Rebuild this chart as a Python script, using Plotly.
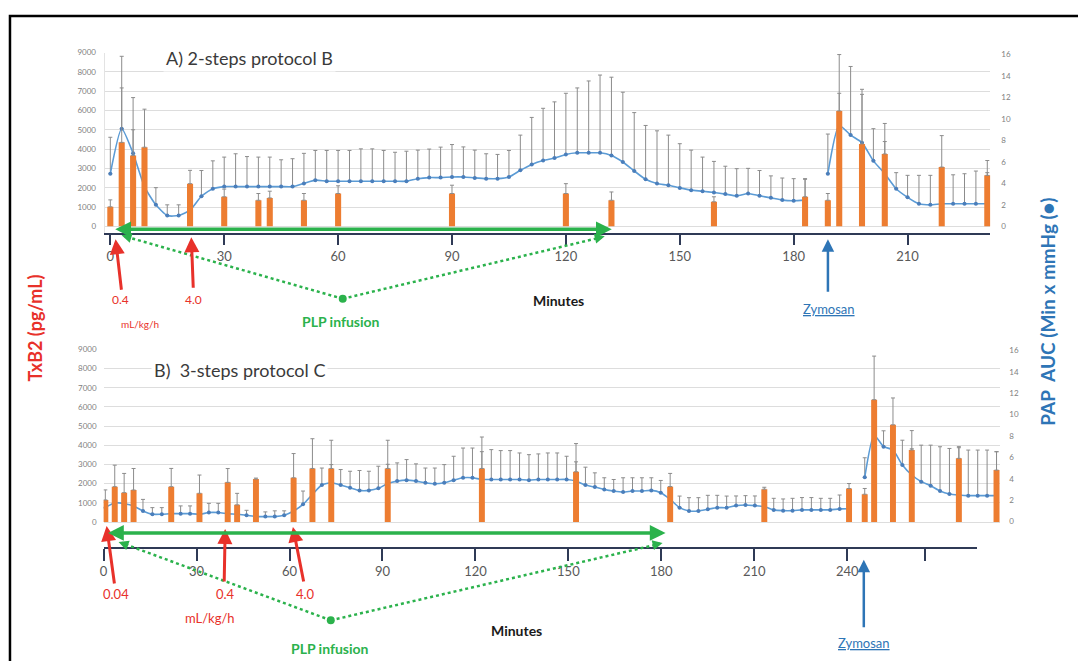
import plotly.graph_objects as go

W, H = 1078, 661
def px(x): return x / W
def py(y): return 1 - y / H

# ---------------- Panel A data (2-steps protocol B) ----------------
A_T_LINE = [0, 3, 6, 9, 12, 15, 18, 21, 24, 27, 30, 33, 36, 39, 42, 45, 48, 51, 54, 57,
            60, 63, 66, 69, 72, 75, 78, 81, 84, 87, 90, 93, 96, 99, 102, 105, 108, 111, 114, 117,
            120, 123, 126, 129, 132, 135, 138, 141, 144, 147, 150, 153, 156, 159, 162, 165, 168, 171, 174, 177,
            180, 183, 186, 189, 192, 195, 198, 201, 204, 207, 210, 213, 216, 219, 222, 225, 228, 231]
A_PAP = [4.9, 9.1, 6.8, 3.7, 2.0, 1.0, 1.0, 1.5, 2.8, 3.5,
         3.7, 3.7, 3.7, 3.7, 3.7, 3.7, 3.7, 4.0, 4.3, 4.2,
         4.2, 4.2, 4.2, 4.2, 4.2, 4.2, 4.2, 4.44, 4.54, 4.54,
         4.6, 4.6, 4.51, 4.44, 4.44, 4.6, 5.22, 5.77, 6.14, 6.36,
         6.7, 6.85, 6.85, 6.85, 6.6, 5.99, 5.16, 4.38, 3.98, 3.83,
         3.58, 3.37, 3.27, 3.15, 3.0, 2.84, 3.06, 2.84, 2.65, 2.44,
         2.38, 2.44, None,
         4.9, 9.4, 8.5, 7.8, 6.1, 4.9, 3.5, 2.7, 2.1, 2.0, 2.1, 2.1, 2.1, 2.1, 2.1]
A_PAP_SD = [3.4, 3.8, 2.2, 2.3, 1.6, 1.0, 1.0, 1.1, 2.4, 2.6,
            2.75, 3.06, 2.8, 2.75, 2.75, 2.5, 2.6, 2.8, 2.77, 2.87,
            2.87, 2.87, 3.02, 3.02, 2.87, 2.7, 2.8, 2.66, 2.66, 2.84,
            3.02, 2.8, 2.59, 2.32, 2.26, 2.47, 3.28, 4.38, 4.86, 5.24,
            5.7, 6.05, 6.7, 7.25, 7.3, 6.51, 5.44, 5.02, 4.92, 4.67,
            4.12, 3.73, 3.18, 2.9, 2.6, 2.53, 2.34, 2.36, 2.05, 2.06,
            2.06, 1.94, 0,
            3.7, 3.0, 6.4, 4.5, 3.0, 3.0, 1.5, 2.05, 2.65, 2.75, 2.6, 2.7, 2.8, 3.05, 2.9]
A_T_BAR = [0, 3, 6, 9, 21, 30, 39, 42, 51, 60, 90, 120, 132, 159, 183, 189, 192, 198, 204, 219, 231]
A_TXB2 = [1010, 4350, 3670, 4100, 2210, 1530, 1350, 1470, 1350, 1700, 1700, 1700, 1350, 1270, 1530,
          1350, 5980, 4270, 3750, 3070, 2640]
A_TXB2_SD = [360, 4460, 3000, 1970, 690, 400, 350, 350, 350, 400, 430, 510, 430, 260, 940,
             350, 2920, 2830, 1580, 1630, 770]
A_XTICKS = [0, 30, 60, 90, 120, 150, 180, 210]

# ---------------- Panel B data (3-steps protocol C) ----------------
B_T_LINE = [0, 3, 6, 9, 12, 15, 18, 21, 24, 27, 30, 33, 36, 39, 42, 45, 48, 51, 54, 57,
            60, 63, 66, 69, 72, 75, 78, 81, 84, 87, 90, 93, 96, 99, 102, 105, 108, 111, 114, 117,
            120, 123, 126, 129, 132, 135, 138, 141, 144, 147, 150, 153, 156, 159, 162, 165, 168, 171, 174, 177,
            180, 183, 186, 189, 192, 195, 198, 201, 204, 207, 210, 213, 216, 219, 222, 225, 228, 231, 234, 237,
            240, 242, 245, 248, 251, 254, 257, 260, 263, 266, 269, 272, 275, 278, 281, 284]
B_PAP = [1.3, 1.76, 1.67, 1.46, 0.99, 0.68, 0.68, 0.74, 0.74, 0.74,
         0.68, 0.84, 0.84, 0.74, 0.68, 0.59, 0.46, 0.46, 0.46, 0.59,
         0.99, 1.61, 2.54, 3.41, 3.62, 3.41, 3.16, 2.91, 2.91, 3.1,
         3.55, 3.78, 3.87, 3.78, 3.62, 3.53, 3.62, 3.87, 4.09, 4.09,
         3.93, 3.93, 3.93, 3.93, 3.93, 3.87, 3.93, 3.93, 3.93, 3.93,
         3.78, 3.41, 3.22, 3.0, 2.85, 2.76, 2.85, 2.85, 2.91, 2.69,
         2.07, 1.3, 0.99, 0.99, 1.15, 1.3, 1.3, 1.49, 1.55, 1.49,
         1.4, 1.09, 1.02, 1.02, 1.09, 1.09, 1.09, 1.09, 1.18, 1.2,
         None,
         4.13, 8.07, 7.0, 6.7, 5.28, 4.35, 3.73, 3.35, 2.86, 2.58, 2.48, 2.42, 2.42, 2.42, 2.42]
B_PAP_SD = [0.5, 1.0, 0.8, 0.8, 1.08, 0.62, 0.62, 0.6, 0.72, 0.72,
            0.7, 0.86, 0.86, 0.7, 0.6, 0.46, 0.5, 0.44, 0.54, 0.41,
            0.8, 1.24, 1.5, 1.59, 1.7, 1.45, 1.54, 1.86, 1.79, 2.07,
            1.8, 1.7, 1.92, 1.61, 1.38, 1.47, 1.7, 2.23, 2.78, 2.78,
            2.6, 2.79, 2.7, 2.7, 2.48, 2.38, 2.39, 2.48, 2.48, 2.17,
            1.8, 1.67, 1.33, 1.09, 1.08, 1.33, 1.24, 1.24, 1.18, 1.15,
            1.2, 1.08, 1.24, 1.24, 1.3, 1.15, 1.08, 0.9, 0.87, 0.9,
            0.9, 1.08, 1.09, 1.15, 1.15, 1.15, 1.08, 1.08, 1.3, 1.0,
            0,
            1.83, 1.5, 1.48, 1.0, 2.32, 2.45, 3.41, 3.79, 4.13, 4.25, 4.42, 4.26, 4.26, 4.26, 4.1]
B_T_BAR = [0, 3, 6, 9, 21, 30, 39, 42, 48, 60, 66, 72, 90, 120, 150, 180, 210, 237,
           242, 245, 251, 257, 272, 284]
B_TXB2 = [1155, 1845, 1534, 1672, 1845, 1500, 2069, 896, 2241, 2310, 2793, 2793, 2793, 2793, 2620,
          1845, 1713, 1748, 1450, 6379, 5068, 3757, 3320, 2709]
B_TXB2_SD = [520, 1120, 1000, 1120, 950, 950, 720, 600, 50, 1260, 1550, 1470, 1470, 1640, 1470,
             690, 100, 260, 300, 2270, 1400, 1010, 610, 960]
B_XTICKS = [0, 30, 60, 90, 120, 150, 180, 210, 240, 265]
B_XTICKTEXT = ["0", "30", "60", "90", "120", "150", "180", "210", "240", ""]

LEFT_TICKS = [0, 1000, 2000, 3000, 4000, 5000, 6000, 7000, 8000, 9000]
RIGHT_TICKS = [0, 2, 4, 6, 8, 10, 12, 14, 16]

ORANGE = "#ED7D31"
BLUE_LINE = "#5B9BD5"
BLUE_MK = "#4A7EBB"
ERR = "#8C8C8C"
RED = "#E8312A"
GREEN = "#2BB24C"
ZBLUE = "#2E75B6"
NAVY = "#2F3A56"
FONT = "Lato, Carlito, Calibri, sans-serif"

fig = go.Figure()

def err(sd):
    return dict(type="data", symmetric=False, array=sd, arrayminus=[0] * len(sd),
                color=ERR, thickness=1, width=2)

# Panel A
fig.add_trace(go.Scatter(x=A_T_LINE, y=A_PAP, xaxis="x", yaxis="y", mode="lines+markers",
                         line=dict(color=BLUE_LINE, width=1.6, shape="spline", smoothing=0.6),
                         marker=dict(size=4, color=BLUE_MK), error_y=err(A_PAP_SD),
                         connectgaps=False, hoverinfo="skip"))
fig.add_trace(go.Bar(x=A_T_BAR, y=A_TXB2, xaxis="x", yaxis="y2", width=1.6,
                     marker=dict(color=ORANGE, line=dict(width=0)), error_y=err(A_TXB2_SD),
                     hoverinfo="skip"))
# Panel B
fig.add_trace(go.Scatter(x=B_T_LINE, y=B_PAP, xaxis="x3", yaxis="y3", mode="lines+markers",
                         line=dict(color=BLUE_LINE, width=1.6, shape="spline", smoothing=0.6),
                         marker=dict(size=4, color=BLUE_MK), error_y=err(B_PAP_SD),
                         connectgaps=False, hoverinfo="skip"))
fig.add_trace(go.Bar(x=B_T_BAR, y=B_TXB2, xaxis="x3", yaxis="y4", width=1.9,
                     marker=dict(color=ORANGE, line=dict(width=0)), error_y=err(B_TXB2_SD),
                     hoverinfo="skip"))
# dummy trace for the drawn minutes axis of panel B
fig.add_trace(go.Scatter(x=[0], y=[None], xaxis="x4", yaxis="y3", mode="markers",
                         hoverinfo="skip", showlegend=False))

small = dict(size=8, color="#7F7F7F", family=FONT)
xt = dict(size=13, color="#595959", family=FONT)

fig.update_layout(
    width=W, height=H, margin=dict(l=0, r=0, t=0, b=0),
    paper_bgcolor="white", plot_bgcolor="rgba(0,0,0,0)", showlegend=False,
    font=dict(family=FONT), barmode="overlay",
    xaxis=dict(domain=[px(101), px(990)], range=[-1.5, 231.8], anchor="y",
               tickvals=A_XTICKS, showline=True, linecolor=NAVY, linewidth=2,
               ticks="outside", ticklen=10, tickwidth=2, tickcolor=NAVY,
               showgrid=False, zeroline=False, tickfont=xt),
    yaxis=dict(domain=[py(230), py(48)], range=[-0.65, 16.19], side="right", anchor="x",
               tickvals=RIGHT_TICKS, showgrid=False, zeroline=False, tickfont=small,
               ticklabelstandoff=10),
    yaxis2=dict(overlaying="y", side="left", anchor="x", range=[-360, 9000],
                tickvals=LEFT_TICKS, showgrid=True, gridcolor="#DDDDDD", gridwidth=1,
                zeroline=False, tickfont=small, showline=True, linecolor="#E3E3E3",
                ticklabelstandoff=6),
    xaxis3=dict(domain=[px(100), px(1000)], range=[-0.54, 285.2], anchor="y3", visible=False),
    yaxis3=dict(domain=[py(547), py(347)], range=[-2.46, 16.09], side="right", anchor="x3",
                tickvals=RIGHT_TICKS, showgrid=False, zeroline=False, tickfont=small,
                ticklabelstandoff=8),
    yaxis4=dict(overlaying="y3", side="left", anchor="x3", range=[-1345, 9000],
                tickvals=LEFT_TICKS, showgrid=True, gridcolor="#DDDDDD", gridwidth=1,
                zeroline=False, tickfont=small, ticklabelstandoff=6),
    xaxis4=dict(domain=[px(100), px(977)], range=[0, 282], anchor="free", position=py(547),
                tickvals=B_XTICKS, ticktext=B_XTICKTEXT, showline=True, linecolor=NAVY,
                linewidth=2, ticks="outside", ticklen=12, tickwidth=2, tickcolor=NAVY,
                showgrid=False, zeroline=False, tickfont=xt),
)

ann = []
def text(x, y, s, size, color, bold=False, angle=0, bg=None, family=FONT):
    d = dict(x=px(x), y=py(y), xref="paper", yref="paper", showarrow=False,
             text=("<b>%s</b>" % s) if bold else s, textangle=angle,
             font=dict(size=size, color=color, family=family),
             xanchor="center", yanchor="middle")
    if bg:
        d.update(bgcolor=bg, borderpad=2)
    ann.append(d)

def arrow(x0, y0, x1, y1, color, width, head=2, size=1.0, both=False):
    d = dict(x=px(x1), y=py(y1), xref="paper", yref="paper", text="", showarrow=True,
             ax=x0 - x1, ay=y0 - y1, axref="pixel", ayref="pixel",
             arrowhead=head, arrowsize=size, arrowwidth=width, arrowcolor=color,
             standoff=0, startstandoff=0)
    if both:
        d.update(arrowside="end+start", startarrowhead=head, startarrowsize=size)
    ann.append(d)

# titles
text(246, 53, "A) 2-steps protocol B", 18, "#3A3A3A", bg="white")
text(236, 368, "B)  3-steps protocol C", 18, "#3A3A3A", bg="white")
text(31, 325, "TxB2 (pg/mL)", 18, RED, bold=True, angle=-90)
text(1048, 309, "PAP  AUC (Min x mmHg (●)", 19, ZBLUE, bold=True, angle=-90)

# panel A annotations
text(117, 297, "0.4", 12, RED)
text(190, 297, "4.0", 12, RED)
text(137, 321, "mL/kg/h", 10, RED)
text(557, 298, "Minutes", 14, "#1A1A1A", bold=True)
text(338, 319, "PLP infusion", 14, GREEN, bold=True)
text(828, 306, "<u>Zymosan</u>", 13, ZBLUE)
arrow(118, 288, 112, 236, RED, 3)
arrow(190, 286, 188, 234, RED, 3)
arrow(827, 290, 827, 236, ZBLUE, 2.5)
arrow(112, 226, 610, 226, GREEN, 3.5, head=2, size=0.9, both=True)

# panel B annotations
text(112, 593, "0.04", 13, RED)
text(222, 593, "0.4", 13, RED)
text(303, 593, "4.0", 13, RED)
text(207, 618, "mL/kg/h", 13, RED)
text(514, 630, "Minutes", 14, "#1A1A1A", bold=True)
text(327, 648, "PLP infusion", 14, GREEN, bold=True)
text(863, 643, "<u>Zymosan</u>", 13, ZBLUE)
arrow(111, 584, 103, 525, RED, 3)
arrow(221, 582, 222, 528, RED, 3)
arrow(301, 582, 290, 526, RED, 3)
arrow(863, 628, 863, 559, ZBLUE, 2.5)
arrow(105, 532, 664, 532, GREEN, 3.5, head=2, size=0.9, both=True)

# dotted arrowheads
arrow(127.6, 234.8, 118, 232, GREEN, 2, head=2, size=1)
arrow(593.3, 235.3, 603, 233, GREEN, 2, head=2, size=1)
arrow(124.4, 544.5, 115, 541, GREEN, 2, head=2, size=1)
arrow(651.3, 544.3, 661, 542, GREEN, 2, head=2, size=1)

shapes = []
def seg(x0, y0, x1, y1, color, width, dash="solid"):
    shapes.append(dict(type="line", xref="paper", yref="paper",
                       x0=px(x0), y0=py(y0), x1=px(x1), y1=py(y1),
                       line=dict(color=color, width=width, dash=dash)))
def dot(x, y, r, color):
    shapes.append(dict(type="circle", xref="paper", yref="paper",
                       x0=px(x - r), x1=px(x + r), y0=py(y + r), y1=py(y - r),
                       fillcolor=color, line=dict(width=0)))

seg(340, 296, 121, 233, GREEN, 2.5, "dot")
seg(340, 296, 600, 234, GREEN, 2.5, "dot")
dot(340, 296, 4, GREEN)
seg(328, 620, 118, 542, GREEN, 2.5, "dot")
seg(328, 620, 658, 543, GREEN, 2.5, "dot")
dot(328, 620, 4, GREEN)

# outer frame
shapes.append(dict(type="rect", xref="paper", yref="paper", x0=px(6), x1=px(1090),
                   y0=py(670), y1=py(11), line=dict(color="black", width=2.5),
                   fillcolor="rgba(0,0,0,0)", layer="above"))

fig.update_layout(annotations=ann, shapes=shapes)
fig.write_html("out.html", config={"displayModeBar": False},
               post_script="document.body.style.margin='0';")
